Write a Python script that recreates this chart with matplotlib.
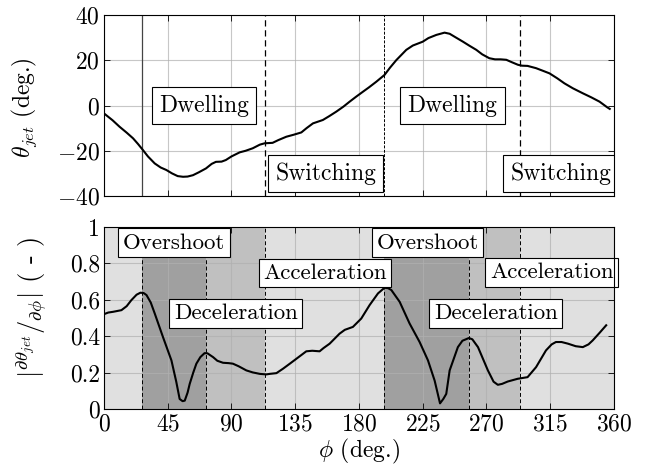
import numpy as np
import matplotlib
matplotlib.use('Agg')
import matplotlib.pyplot as plt

plt.rcParams['font.family'] = 'serif'
plt.rcParams['font.serif'] = ['cmr10']
plt.rcParams['mathtext.fontset'] = 'cm'
plt.rcParams['axes.formatter.use_mathtext'] = True
plt.rcParams['font.size'] = 17

# jet angle over one cycle
phi_top = [0, 6, 11, 16, 20.5, 24, 27.5, 31, 35.8, 40, 44, 48, 52, 55.8, 59, 62.8, 67, 72,
           76, 79, 83, 86, 90, 95.8, 100, 105, 110, 113.4, 119, 123, 128.7, 134, 139.3, 143,
           147.5, 154.5, 159, 164, 169, 173.4, 178, 182.8, 187, 192.2, 198, 202, 206.4, 213.4,
           218, 225, 229, 234.6, 240.4, 244, 248, 253.4, 258, 262.8, 267, 272, 276, 280, 284,
           288, 292.2, 295, 299, 305, 310, 314.5, 320, 325, 331, 338, 344, 349.8, 355, 357]
theta_jet = [-3.5, -6.5, -9.4, -12, -14.5, -17, -19.7, -22.5, -25.6, -27.4, -28.5, -30.0,
             -31.2, -31.5, -31.4, -30.8, -29.5, -27.8, -25.8, -24.9, -24.8, -24.1, -22.5,
             -20.7, -20.0, -18.9, -17.3, -16.7, -16.5, -15.3, -13.8, -12.9, -11.9, -10.0,
             -7.9, -6.4, -4.7, -2.7, -0.5, 1.7, 3.9, 6.1, 8.0, 10.5, 13.5, 16.8, 20.1, 24.6,
             26.5, 28.2, 29.8, 31.2, 32.2, 31.7, 30.2, 28.2, 26.4, 24.6, 22.6, 20.9, 20.4,
             20.4, 20.2, 19.1, 18.0, 17.6, 17.5, 16.5, 15.3, 14.2, 12.0, 9.8, 7.6, 5.4, 3.6,
             1.7, -0.7, -1.5]

# absolute derivative of the jet angle
phi_bot = [0, 3, 6.4, 12.3, 16, 19.3, 23, 25.7, 28, 30, 33, 35.8, 41.6, 47.6, 51, 53.4, 55.5,
           57, 59, 60.5, 63, 65.2, 68, 71, 73, 77, 80, 84, 88, 91, 95, 100.5, 105, 110, 114.6,
           117, 121.7, 126.3, 131, 135.8, 142.8, 147, 152.2, 155, 159.3, 166.3, 170, 175.7,
           181.6, 187.5, 193.4, 198, 200.5, 202.8, 208.7, 215.7, 222.8, 228.7, 233.4, 237.2,
           239.5, 241.6, 244, 249.8, 253, 257.6, 260, 264, 271, 275, 278, 281, 285, 292, 299,
           305, 312, 316, 319, 323, 327.5, 333, 338, 342, 345, 350, 354.5]
dtheta = [0.521, 0.530, 0.534, 0.543, 0.565, 0.598, 0.628, 0.639, 0.637, 0.626, 0.585, 0.525,
          0.396, 0.267, 0.15, 0.055, 0.043, 0.046, 0.09, 0.138, 0.2, 0.249, 0.285, 0.307,
          0.306, 0.285, 0.265, 0.254, 0.252, 0.249, 0.235, 0.212, 0.201, 0.193, 0.190, 0.193,
          0.197, 0.221, 0.248, 0.276, 0.317, 0.320, 0.317, 0.335, 0.359, 0.414, 0.435, 0.451,
          0.497, 0.571, 0.635, 0.666, 0.664, 0.654, 0.589, 0.47, 0.368, 0.267, 0.156, 0.031,
          0.055, 0.083, 0.212, 0.34, 0.375, 0.39, 0.383, 0.34, 0.212, 0.15, 0.133, 0.138,
          0.151, 0.166, 0.175, 0.23, 0.322, 0.355, 0.368, 0.368, 0.359, 0.345, 0.34, 0.355,
          0.377, 0.42, 0.46]

# phase boundaries
top_lines = [27, 114, 198, 294]
bot_edges = [0, 27, 72, 114, 198, 258, 294, 360]
bot_shades = ['#e0e0e0', '#a0a0a0', '#c0c0c0', '#e0e0e0', '#a0a0a0', '#c0c0c0', '#e0e0e0']

top_labels = ['Dwelling', 'Switching', 'Dwelling', 'Switching']
top_label_x = [70.6, 156.5, 246, 322.5]
top_label_y = [0, -30, 0, -30]
bot_labels = ['Overshoot', 'Deceleration', 'Acceleration', 'Overshoot', 'Deceleration', 'Acceleration']
bot_label_x = [49.4, 93, 156, 228.5, 276.6, 316]
bot_label_y = [0.913, 0.524, 0.748, 0.913, 0.524, 0.75]

fig = plt.figure(figsize=(6.48, 4.73), dpi=100)
ax1 = fig.add_axes([0.1605, 0.5856, 0.787, 0.3827])
ax2 = fig.add_axes([0.1605, 0.1353, 0.787, 0.3848])

top_box = dict(boxstyle='square,pad=0.3', fc='white', ec='black', lw=0.8)
bot_box = dict(boxstyle='square,pad=0.2', fc='white', ec='black', lw=0.8)

# top panel
ax1.plot(phi_top, theta_jet, color='black', lw=1.5, zorder=4)
ax1.axvline(top_lines[0], color='#444444', lw=0.9, zorder=3)
ax1.axvline(top_lines[1], color='black', lw=0.9, ls=(0, (5, 3)), zorder=3)
ax1.axvline(top_lines[2], color='black', lw=0.7, ls=(0, (3, 1.5)), zorder=3)
ax1.axvline(top_lines[3], color='black', lw=0.9, ls=(0, (5, 3)), zorder=3)
for s, x, y in zip(top_labels, top_label_x, top_label_y):
    ax1.text(x, y, s, ha='center', va='center', fontsize=17, bbox=top_box, zorder=5, clip_on=True)
ax1.set_xlim(0, 360)
ax1.set_ylim(-40, 40)
ax1.set_xticks(np.arange(0, 361, 45))
ax1.set_yticks([-40, -20, 0, 20, 40])
ax1.set_xticklabels([])
ax1.set_ylabel(r'$\theta_{jet}$ (deg.)')
ax1.yaxis.set_label_coords(-0.128, 0.486)

# bottom panel
for i in range(len(bot_shades)):
    ax2.axvspan(bot_edges[i], bot_edges[i + 1], color=bot_shades[i], lw=0, zorder=0)
for x in bot_edges[1:-1]:
    ax2.axvline(x, color='black', lw=0.7, ls=(0, (4, 2.5)), zorder=3)
ax2.plot(phi_bot, dtheta, color='black', lw=1.5, zorder=4)
for s, x, y in zip(bot_labels, bot_label_x, bot_label_y):
    ax2.text(x, y, s, ha='center', va='center', fontsize=16.5, bbox=bot_box, zorder=5)
ax2.set_xlim(0, 360)
ax2.set_ylim(0, 1)
ax2.set_xticks(np.arange(0, 361, 45))
ax2.set_yticks([0, 0.2, 0.4, 0.6, 0.8, 1])
ax2.set_yticklabels(['0', '0.2', '0.4', '0.6', '0.8', '1'])
ax2.set_xlabel(r'$\phi$ (deg.)', labelpad=1)
ax2.set_ylabel(r'$|^{\partial\theta_{jet}}/_{\partial\phi}|$ ( - )', fontsize=19)
ax2.yaxis.set_label_coords(-0.105, 0.56)

for ax in (ax1, ax2):
    ax.grid(True, color='#b0b0b0', lw=0.8, alpha=0.7, zorder=1)
    ax.set_axisbelow(False)
    ax.tick_params(direction='in', top=True, right=True, length=4, width=0.6, pad=3)
    for sp in ax.spines.values():
        sp.set_linewidth(0.8)
        sp.set_zorder(6)

plt.savefig('out.png', dpi=100)
